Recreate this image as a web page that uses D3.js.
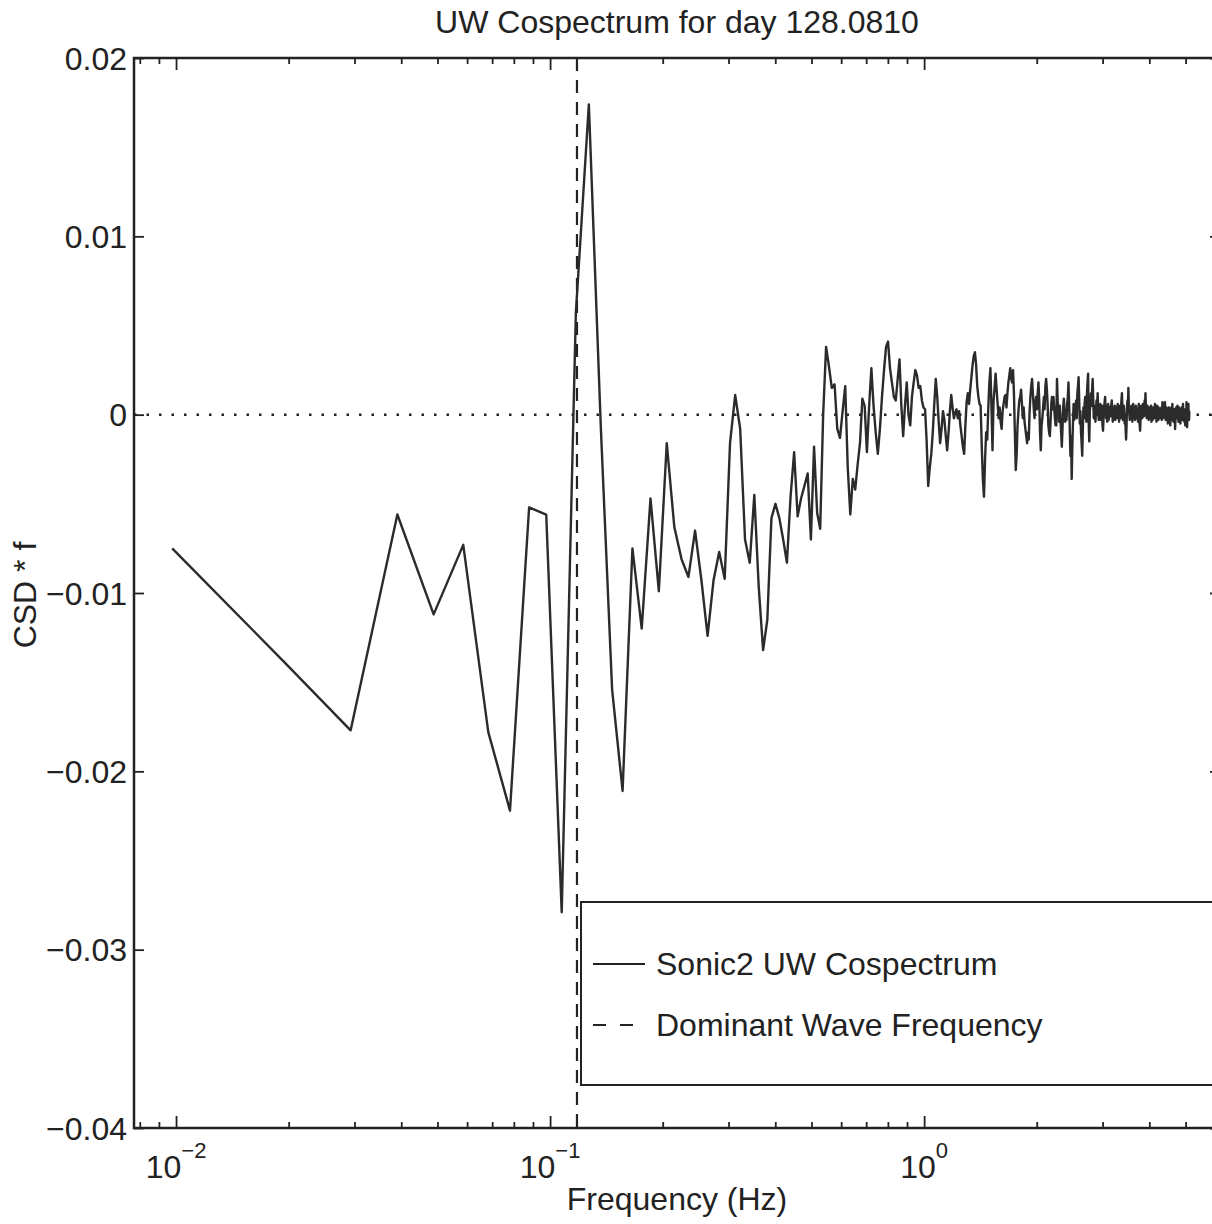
<!DOCTYPE html>
<html>
<head>
<meta charset="utf-8">
<script src="https://d3js.org/d3.v7.min.js"></script>
<style>
  body { margin: 0; background: #fff; }
  text { font-family: "Liberation Sans", Arial, Helvetica, sans-serif; fill: #222; }
</style>
</head>
<body>
<div id="plot"></div>
<script>
// spectral bin width (Hz), bin k sits at k * binWidth
var binWidth = 10 / 1024;
// cospectrum * f, in units of 1e-4 (one value per bin, k = 1..524)
var csdUnit = 1e-4;
var csdValues = [
  -75, -139, -177, -56, -112, -73, -178, -222, -52, -56,
  -279, 57, 174, -8, -154, -211, -75, -120, -47, -99,
  -16, -63, -81, -91, -65, -93, -124, -93, -77, -92,
  -16, 11, -8, -70, -83, -45, -97, -132, -115, -58,
  -50, -58, -70, -83, -46, -21, -57, -47, -40, -33,
  -70, -18, -55, -64, 0, 38, 27, 15, 17, -8,
  -13, 2, 16, -30, -56, -36, -42, -28, -16, 9,
  5, -21, 5, 26, 5, -10, -22, -8, 10, 25,
  38, 41, 26, 18, 10, 8, 20, 31, 5, -12,
  5, 18, 0, -6, 10, 18, 25, 22, 15, 16,
  8, 4, 3, -15, -40, -30, -22, -10, 6, 20,
  10, -4, -16, -8, 2, -3, -12, -20, -10, 2,
  11, 4, -2, 1, 3, -2, 2, -6, -12, -18,
  -22, -6, 7, 12, 6, 14, 21, 28, 33, 35,
  28, 16, 10, 6, 5, -18, -36, -46, -25, -10,
  -14, 4, 18, 26, 4, -20, 8, 15, 23, 14,
  6, -2, 4, -4, -8, 2, 6, 10, 11, 4,
  12, 18, 22, 26, 20, 18, 25, 12, -10, -31,
  -22, -6, 2, 8, 10, 14, 6, -2, 4, -4,
  -8, -12, -16, -10, -14, 2, 10, 16, 20, 12,
  4, -2, 6, 10, 3, 12, 18, 8, -10, -20,
  -6, -2, 4, 10, 3, 16, 20, 14, 6, -6,
  -10, -12, -4, 6, 10, 3, 10, 4, -2, -6,
  -6, 20, 8, 2, -4, 5, -2, -10, -18, -8,
  4, 9, 3, -4, 2, -3, 6, 10, 18, 6,
  -8, -23, -12, -36, -18, -4, 6, -3, 2, 3,
  8, -2, 12, 16, 21, 8, -5, 2, -10, -16,
  -23, -8, 4, -2, 6, 10, 3, -4, 12, 18,
  23, -4, -15, 2, 6, 12, 5, 14, 20, 8,
  -2, 5, 1, -4, 3, 8, 6, 12, 2, -3,
  4, -1, 6, -3, 2, 5, -6, -9, -2, 4,
  7, 10, 3, -2, 5, -4, 1, 6, -3, 2,
  4, -1, 3, 5, 8, 2, -4, 1, -2, 3,
  5, -3, 1, 4, -2, 2, 6, -1, 3, -4,
  2, 5, -2, 3, 8, 12, 4, -3, 1, 5,
  2, -5, -1, -8, -14, -6, 4, 8, 3, 15,
  6, 1, -3, 4, 2, -2, 5, 0, -4, 3,
  6, -1, 2, 4, -3, 0, 5, 2, -2, 3,
  1, -4, 3, 6, -2, -6, -9, -3, 2, 5,
  1, -2, 4, 6, 2, -1, 3, 8, 5, 12,
  4, 0, -2, 3, 5, -1, 2, -3, 4, 1,
  -2, 3, 0, 5, -4, 2, 1, -3, 4, 0,
  3, -2, 2, 6, -1, 0, 3, -4, 2, 5,
  -1, 1, -3, 4, 2, -2, 0, 3, -1, 2,
  4, -3, 1, 7, 0, -2, 2, 5, -1, 3,
  7, 0, -3, 2, 4, -2, 1, 3, -5, 2,
  0, 4, -2, 3, 1, -6, 2, 0, 4, -3,
  1, 6, -1, 2, -4, 0, 3, -2, 2, -8,
  -3, 1, 4, 0, -2, 3, 5, -1, 2, -4,
  1, 4, -2, 0, 3, -5, 1, 2, -1, 4,
  0, -3, 2, 6, -2, 1, 3, -4, 0, 2,
  -6, 1, 3, -2, 7, 0, -7, 2, 4, -1,
  6, 0, -3, 2
];
var dominantFreq = 0.118;
var yTicks = [0.02, 0.01, 0, -0.01, -0.02, -0.03, -0.04];
var yTickLabels = ["0.02", "0.01", "0", "\u22120.01", "\u22120.02", "\u22120.03", "\u22120.04"];
var xMajorTicks = [0.01, 0.1, 1];
var xTickExponents = ["\u22122", "\u22121", "0"];
var xMinorTicks = [0.008, 0.009,
  0.02, 0.03, 0.04, 0.05, 0.06, 0.07, 0.08, 0.09,
  0.2, 0.3, 0.4, 0.5, 0.6, 0.7, 0.8, 0.9,
  2, 3, 4, 5, 6];
var legendLabels = ["Sonic2 UW Cospectrum", "Dominant Wave Frequency"];

var data = csdValues.map(function(v, i) {
  return {f: (i + 1) * binWidth, v: v * csdUnit};
});

// axes box in page pixels
var boxLeft = 134, boxRight = 1220, boxTop = 58, boxBottom = 1128;
var ink = "#222";

var svg = d3.select("#plot")
  .append("svg")
  .attr("width", 1212)
  .attr("height", 1224)
  .style("background", "#fff");

var x = d3.scaleLog()
  .domain([0.00772, 6.18])
  .range([boxLeft, boxRight]);
var y = d3.scaleLinear()
  .domain([-0.04, 0.02])
  .range([boxBottom, boxTop]);

svg.append("clipPath").attr("id", "clip")
  .append("rect")
  .attr("x", boxLeft).attr("y", boxTop)
  .attr("width", boxRight - boxLeft).attr("height", boxBottom - boxTop);

// zero reference (dotted)
svg.append("line")
  .attr("x1", boxLeft).attr("x2", boxRight)
  .attr("y1", y(0)).attr("y2", y(0))
  .attr("stroke", ink)
  .attr("stroke-width", 2.5)
  .attr("stroke-dasharray", "2.5,10");

// dominant wave frequency (dashed)
svg.append("line")
  .attr("x1", x(dominantFreq)).attr("x2", x(dominantFreq))
  .attr("y1", boxTop).attr("y2", boxBottom)
  .attr("stroke", ink)
  .attr("stroke-width", 2.2)
  .attr("stroke-dasharray", "13,9");

// cospectrum
svg.append("path")
  .datum(data)
  .attr("clip-path", "url(#clip)")
  .attr("fill", "none")
  .attr("stroke", "#2b2b2b")
  .attr("stroke-width", 2.4)
  .attr("stroke-linejoin", "round")
  .attr("d", d3.line()
    .x(function(d) { return x(d.f); })
    .y(function(d) { return y(d.v); }));

// ticks (inward, on all four sides)
function cleanAxis(g) {
  g.select(".domain").remove();
  g.selectAll(".tick line").attr("stroke", ink).attr("stroke-width", 1.8);
}
svg.append("g").attr("transform", "translate(0," + boxBottom + ")")
  .call(d3.axisBottom(x).tickValues(xMajorTicks).tickSize(-12).tickFormat(""))
  .call(cleanAxis);
svg.append("g").attr("transform", "translate(0," + boxBottom + ")")
  .call(d3.axisBottom(x).tickValues(xMinorTicks).tickSize(-6).tickFormat(""))
  .call(cleanAxis);
svg.append("g").attr("transform", "translate(0," + boxTop + ")")
  .call(d3.axisTop(x).tickValues(xMajorTicks).tickSize(-12).tickFormat(""))
  .call(cleanAxis);
svg.append("g").attr("transform", "translate(0," + boxTop + ")")
  .call(d3.axisTop(x).tickValues(xMinorTicks).tickSize(-6).tickFormat(""))
  .call(cleanAxis);
svg.append("g").attr("transform", "translate(" + boxRight + ",0)")
  .call(d3.axisRight(y).tickValues(yTicks).tickSize(-10).tickFormat(""))
  .call(cleanAxis);

var yAxis = svg.append("g").attr("transform", "translate(" + boxLeft + ",0)")
  .call(d3.axisLeft(y).tickValues(yTicks).tickSize(-10).tickPadding(7)
    .tickFormat(function(d, i) { return yTickLabels[i]; }))
  .call(cleanAxis);
yAxis.selectAll(".tick text")
  .attr("dy", "0.35em")
  .style("font-size", "32px")
  .style("font-family", "'Liberation Sans', Arial, sans-serif")
  .attr("fill", ink);

// box
svg.append("rect")
  .attr("x", boxLeft).attr("y", boxTop)
  .attr("width", boxRight - boxLeft).attr("height", boxBottom - boxTop)
  .attr("fill", "none")
  .attr("stroke", ink)
  .attr("stroke-width", 2.5);

// x tick labels as powers of ten
var xLab = svg.append("g").selectAll("text")
  .data(xMajorTicks)
  .enter().append("text")
  .attr("x", function(d) { return x(d); })
  .attr("y", 1178)
  .attr("text-anchor", "middle")
  .style("font-size", "32px");
xLab.append("tspan").text("10");
xLab.append("tspan")
  .attr("dy", -20)
  .style("font-size", "22px")
  .text(function(d, i) { return xTickExponents[i]; });

// title and axis labels
svg.append("text")
  .attr("x", (boxLeft + boxRight) / 2)
  .attr("y", 33)
  .attr("text-anchor", "middle")
  .style("font-size", "32px")
  .text("UW Cospectrum for day 128.0810");

svg.append("text")
  .attr("x", (boxLeft + boxRight) / 2)
  .attr("y", 1210)
  .attr("text-anchor", "middle")
  .style("font-size", "32px")
  .text("Frequency (Hz)");

svg.append("text")
  .attr("transform", "translate(36," + 595 + ") rotate(-90)")
  .attr("text-anchor", "middle")
  .style("font-size", "32px")
  .text("CSD * f");

// legend
var legend = svg.append("g");
legend.append("rect")
  .attr("x", 581).attr("y", 902)
  .attr("width", 1214 - 581).attr("height", 1085 - 902)
  .attr("fill", "#fff")
  .attr("stroke", ink)
  .attr("stroke-width", 2);
var rows = [964, 1025];
legend.selectAll("line.key")
  .data(legendLabels)
  .enter().append("line")
  .attr("class", "key")
  .attr("x1", 593).attr("x2", 645)
  .attr("y1", function(d, i) { return rows[i]; })
  .attr("y2", function(d, i) { return rows[i]; })
  .attr("stroke", ink)
  .attr("stroke-width", 2.2)
  .attr("stroke-dasharray", function(d, i) { return i == 1 ? "13,14" : null; });
legend.selectAll("text")
  .data(legendLabels)
  .enter().append("text")
  .attr("x", 656)
  .attr("y", function(d, i) { return rows[i] + 11; })
  .style("font-size", "32px")
  .text(function(d) { return d; });
</script>
</body>
</html>
